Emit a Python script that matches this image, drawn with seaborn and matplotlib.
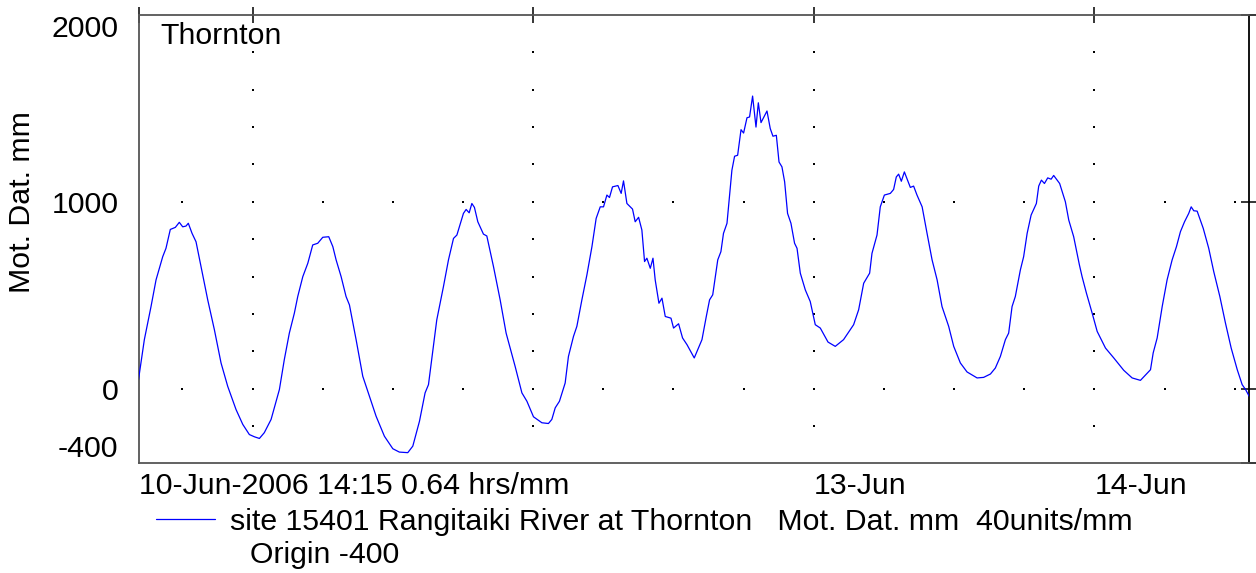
import numpy as np
import pandas as pd
import matplotlib
matplotlib.use("Agg")
import matplotlib.pyplot as plt
import matplotlib.dates as mdates
import seaborn as sns

# ---- data (hours since 10-Jun-2006 14:15, level in mm) ----
hours = [0.0, 0.50, 1.07, 1.50, 2.07, 2.35, 2.72, 3.15, 3.49, 3.78,
         4.06, 4.26, 4.58, 4.92, 5.35, 5.92, 6.49, 7.06, 7.63, 8.34,
         8.92, 9.48, 9.91, 10.34, 10.76, 11.34, 12.05, 12.47, 12.90, 13.33,
         13.62, 14.05, 14.48, 14.90, 15.33, 15.76, 16.27, 16.62, 16.90, 17.33,
         17.75, 18.04, 18.61, 19.18, 19.75, 20.32, 21.03, 21.75, 22.31, 23.03,
         23.46, 24.03, 24.51, 24.80, 25.51, 26.08, 26.51, 26.94, 27.23, 27.79,
         28.02, 28.28, 28.51, 28.73, 29.02, 29.50, 29.79, 30.36, 30.93, 31.44,
         32.21, 32.79, 33.22, 33.78, 34.50, 35.06, 35.35, 35.64, 36.00, 36.49,
         36.77, 37.20, 37.49, 37.92, 38.35, 38.78, 39.14, 39.49, 39.77, 40.06,
         40.28, 40.54, 41.00, 41.28, 41.48, 41.77, 42.25, 42.48, 42.77, 43.05,
         43.28, 43.48, 43.77, 44.00, 44.19, 44.51, 44.77, 45.05, 45.54, 45.76,
         46.19, 46.53, 46.91, 47.53, 48.19, 48.56, 48.84, 49.11, 49.54, 49.81,
         50.03, 50.33, 50.75, 50.98, 51.24, 51.53, 51.75, 52.04, 52.26, 52.52,
         52.81, 53.01, 53.24, 53.75, 54.03, 54.26, 54.55, 54.78, 55.03, 55.26,
         55.51, 55.80, 56.11, 56.32, 56.60, 57.03, 57.45, 57.88, 58.31, 58.97,
         59.59, 60.30, 61.16, 61.59, 62.02, 62.53, 62.73, 63.16, 63.44, 63.79,
         64.30, 64.58, 64.81, 65.01, 65.24, 65.50, 66.01, 66.29, 66.58, 67.02,
         67.44, 67.87, 68.30, 68.72, 69.29, 69.72, 70.29, 70.86, 71.72, 72.28,
         72.86, 73.28, 73.71, 74.14, 74.42, 74.71, 74.99, 75.42, 75.70, 76.00,
         76.34, 76.79, 76.99, 77.22, 77.48, 77.76, 78.05, 78.27, 78.78, 79.27,
         79.56, 79.98, 80.47, 80.70, 81.07, 81.56, 81.99, 82.70, 83.41, 84.26,
         84.98, 85.69, 86.55, 86.78, 87.12, 87.55, 87.97, 88.40, 88.77, 89.11,
         89.46, 89.82, 90.03, 90.25, 90.54, 91.06, 91.53, 91.96, 92.48, 92.96,
         93.45, 93.97, 94.39, 94.68, 94.99]

level = [48, 262, 439, 582, 706, 751, 852, 863, 890, 866,
         870, 885, 831, 786, 653, 475, 315, 137, 12, -112,
         -192, -246, -258, -267, -236, -165, -5, 155, 297, 404,
         493, 599, 671, 769, 778, 810, 813, 760, 689, 599,
         493, 448, 262, 66, -41, -148, -255, -322, -340, -343,
         -308, -175, -23, 21, 368, 546, 689, 804, 822, 938,
         959, 941, 991, 970, 893, 827, 817, 653, 475, 297,
         119, -23, -68, -151, -183, -187, -165, -103, -68, 30,
         172, 279, 333, 475, 609, 760, 911, 973, 973, 1036,
         1023, 1080, 1087, 1045, 1112, 991, 961, 893, 917, 849,
         680, 698, 644, 698, 582, 457, 484, 386, 377, 324,
         347, 271, 235, 164, 262, 386, 475, 502, 689, 733,
         831, 885, 1169, 1244, 1249, 1386, 1368, 1450, 1454, 1566,
         1400, 1530, 1424, 1486, 1392, 1351, 1356, 1213, 1187, 1107,
         938, 885, 778, 751, 618, 528, 466, 342, 324, 249,
         226, 262, 342, 422, 564, 618, 724, 822, 973, 1036,
         1045, 1066, 1133, 1148, 1110, 1160, 1077, 1084, 1036, 973,
         831, 689, 582, 439, 333, 226, 137, 89, 57, 60,
         78, 110, 172, 262, 297, 439, 493, 635, 706, 831,
         929, 991, 1084, 1116, 1098, 1128, 1121, 1141, 1098, 1000,
         902, 813, 662, 599, 511, 404, 306, 217, 164, 98,
         57, 44, 101, 191, 271, 439, 582, 689, 760, 840,
         893, 938, 973, 952, 950, 858, 751, 626, 493, 351,
         217, 101, 21, -5, -41]

start_time = "2006-06-10 14:15"
span_hours = 95
day_ticks = ["2006-06-11", "2006-06-12", "2006-06-13", "2006-06-14"]
x_tick_labels = ["10-Jun-2006 14:15 0.64 hrs/mm", "", "", "13-Jun", "14-Jun"]
y_ticks = [2000, 1000, 0, -400]
y_tick_labels = ["2000", "1000", "0", "-400"]
series_label = "site 15401 Rangitaiki River at Thornton   Mot. Dat. mm  40units/mm"
origin_note = "Origin -400"
site_title = "Thornton"
y_title = "Mot. Dat. mm"

# ---- figure ----
sns.set_theme(style="white")
plt.rcParams["font.family"] = ["Liberation Sans", "DejaVu Sans"]
plt.rcParams["text.color"] = "black"
FS = 21.8
W, H = 1256, 573

start = pd.Timestamp(start_time)
end = start + pd.Timedelta(hours=span_hours)
df = pd.DataFrame({"time": start + pd.to_timedelta(hours, unit="h"), "level": level})

fig = plt.figure(figsize=(W / 100, H / 100), dpi=100)
L, R, T, B = 138.5, 1249.3, 15.0, 463.3
ax = fig.add_axes([L / W, 1 - B / H, (R - L) / W, (B - T) / H])

sns.lineplot(data=df, x="time", y="level", ax=ax, color="#0000ff", lw=0.9,
             estimator=None, sort=False, legend=False, zorder=3)

ax.set_xlim(start, end)
ax.set_ylim(-400, 2000)

# dotted grid: columns at day ticks, rows at 0 and 1000
days = pd.to_datetime(day_ticks)
col_vals = np.arange(-200, 2000, 200)
gx = [d for d in days for _ in col_vals]
gy = [v for _ in days for v in col_vals]
rows_t = pd.date_range(start.ceil("6h"), end, freq="6h")
gx += [t for v in (0, 1000) for t in rows_t]
gy += [v for v in (0, 1000) for _ in rows_t]
ax.scatter(gx, gy, s=1.6, c="black", marker="s", linewidths=0, zorder=2)

xt = [start] + list(days)
ax.set_xticks(mdates.date2num([t.to_pydatetime() for t in xt]))
ax.set_xticklabels(x_tick_labels, ha="left")
ax.set_yticks(y_ticks)
ax.set_yticklabels(y_tick_labels)
for lbl in ax.get_yticklabels():
    if lbl.get_text() == "2000":
        lbl.set_va("top")
    elif lbl.get_text() == "-400":
        lbl.set_va("bottom")

ax.tick_params(axis="both", which="major", direction="inout", length=11, width=1.1,
               color="black", top=True, right=True, labelsize=FS, labelcolor="black")
ax.tick_params(axis="y", pad=9)
ax.tick_params(axis="x", pad=1.0)

for side, sp in ax.spines.items():
    sp.set_visible(True)
    sp.set_linewidth(1.3)
    sp.set_color("#555555")
ax.spines["right"].set_color("black")

ax.set_xlabel("")
ax.set_ylabel(y_title, fontsize=FS, color="black")
ax.yaxis.label.set_va("center")
ax.yaxis.set_label_coords((22 - L) / (R - L), (B - 202) / (B - T))

ax.text((160 - L) / (R - L), (B - 44) / (B - T), site_title, transform=ax.transAxes,
        fontsize=FS, va="baseline", ha="left", color="black")

line = ax.get_lines()[0]
fig.legend(handles=[line], labels=[series_label], loc="center left",
           bbox_to_anchor=(156 / W, 1 - 522 / H), frameon=False, borderpad=0,
           borderaxespad=0, handlelength=1.95, handletextpad=0.5, fontsize=FS,
           labelcolor="black")
fig.text(250 / W, 1 - 563.3 / H, origin_note, fontsize=FS, va="baseline", ha="left",
         color="black")

fig.savefig("out.png", dpi=100, facecolor="white")
